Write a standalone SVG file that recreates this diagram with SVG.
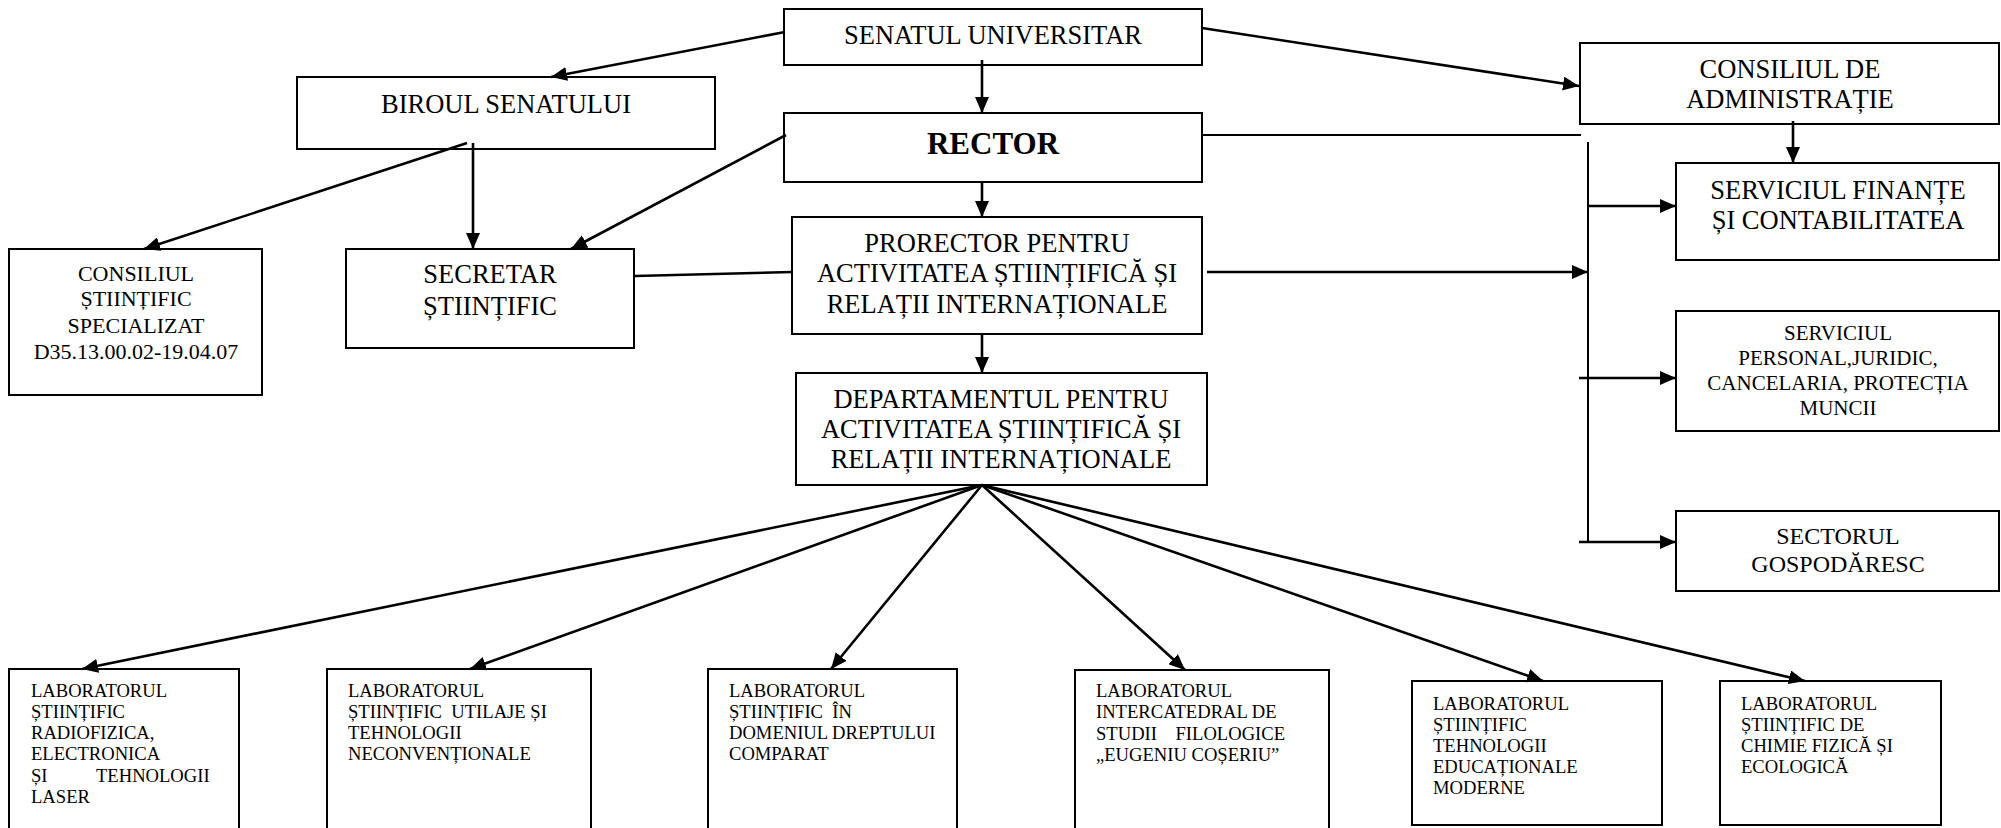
<svg xmlns="http://www.w3.org/2000/svg" width="2001" height="828" viewBox="0 0 2001 828">
<style>
.box{fill:#fff;stroke:#000;stroke-width:2}
text{font-family:"Liberation Serif","Times New Roman",serif;fill:#000}
.c{text-anchor:middle}
.t26{font-size:26.5px}
.t22{font-size:22px}
.t21{font-size:21px}
.t24{font-size:24px}
.lab{font-size:18.6px;white-space:pre}
.ln{stroke:#000;stroke-width:2.6;fill:none}
.thin{stroke:#000;stroke-width:2;fill:none}
</style>
<defs>
<marker id="ah" markerUnits="userSpaceOnUse" markerWidth="16" markerHeight="14" refX="16" refY="7" orient="auto">
<path d="M0,0 L16,7 L0,14 z" fill="#000"/>
</marker>
</defs>
<rect width="2001" height="828" fill="#fff"/>

<g id="senat"><rect class="box" x="784" y="9" width="418" height="56"/>
<text class="c t26" x="993" y="44">SENATUL UNIVERSITAR</text></g>

<g id="birou"><rect class="box" x="297" y="77" width="418" height="72"/>
<text class="c t26" x="506" y="113">BIROUL SENATULUI</text></g>

<g id="rector"><rect class="box" x="784" y="113" width="418" height="69"/>
<text class="c" x="993" y="154" style="font-size:31px;font-weight:bold">RECTOR</text></g>

<g id="consiliul-admin"><rect class="box" x="1580" y="43" width="419" height="81"/>
<text class="c t26" x="1790" y="78">CONSILIUL DE</text>
<text class="c t26" x="1790" y="108">ADMINISTRAȚIE</text></g>

<g id="prorector"><rect class="box" x="792" y="217" width="410" height="117"/>
<text class="c t26" x="997" y="252">PRORECTOR PENTRU</text>
<text class="c t26" x="997" y="282">ACTIVITATEA ȘTIINȚIFICĂ ȘI</text>
<text class="c t26" x="997" y="313">RELAȚII INTERNAȚIONALE</text></g>

<g id="departament"><rect class="box" x="796" y="373" width="411" height="112"/>
<text class="c t26" x="1001" y="408">DEPARTAMENTUL PENTRU</text>
<text class="c t26" x="1001" y="438">ACTIVITATEA ȘTIINȚIFICĂ ȘI</text>
<text class="c t26" x="1001" y="468">RELAȚII INTERNAȚIONALE</text></g>

<g id="consiliul-stiintific"><rect class="box" x="9" y="249" width="253" height="146"/>
<text class="c t22" x="136" y="281">CONSILIUL</text>
<text class="c t22" x="136" y="306">ȘTIINȚIFIC</text>
<text class="c t22" x="136" y="333">SPECIALIZAT</text>
<text class="c t22" x="136" y="359">D35.13.00.02-19.04.07</text></g>

<g id="secretar"><rect class="box" x="346" y="249" width="288" height="99"/>
<text class="c t26" x="490" y="283">SECRETAR</text>
<text class="c t26" x="490" y="315">ȘTIINȚIFIC</text></g>

<g id="finante"><rect class="box" x="1676" y="163" width="323" height="97"/>
<text class="c" x="1838" y="199" style="font-size:26.5px">SERVICIUL FINANȚE</text>
<text class="c" x="1838" y="229" style="font-size:26.5px">ȘI CONTABILITATEA</text></g>

<g id="personal"><rect class="box" x="1676" y="311" width="323" height="120"/>
<text class="c t21" x="1838" y="340">SERVICIUL</text>
<text class="c t21" x="1838" y="365">PERSONAL,JURIDIC,</text>
<text class="c t21" x="1838" y="390">CANCELARIA, PROTECȚIA</text>
<text class="c t21" x="1838" y="415">MUNCII</text></g>

<g id="sectorul"><rect class="box" x="1676" y="511" width="323" height="80"/>
<text class="c t24" x="1838" y="544">SECTORUL</text>
<text class="c t24" x="1838" y="572">GOSPODĂRESC</text></g>

<g id="lab1"><rect class="box" x="9" y="669" width="230" height="175"/>
<text class="lab" x="31" y="697">LABORATORUL</text>
<text class="lab" x="31" y="718">ȘTIINȚIFIC</text>
<text class="lab" x="31" y="739">RADIOFIZICA,</text>
<text class="lab" x="31" y="760">ELECTRONICA</text>
<text class="lab" y="782"><tspan x="31">ȘI</tspan><tspan x="96">TEHNOLOGII</tspan></text>
<text class="lab" x="31" y="803">LASER</text></g>

<g id="lab2"><rect class="box" x="327" y="669" width="264" height="175"/>
<text class="lab" x="348" y="697">LABORATORUL</text>
<text class="lab" x="348" y="718">ȘTIINȚIFIC  UTILAJE ȘI</text>
<text class="lab" x="348" y="739">TEHNOLOGII</text>
<text class="lab" x="348" y="760">NECONVENȚIONALE</text></g>

<g id="lab3"><rect class="box" x="708" y="669" width="249" height="175"/>
<text class="lab" x="729" y="697">LABORATORUL</text>
<text class="lab" x="729" y="718">ȘTIINȚIFIC  ÎN</text>
<text class="lab" x="729" y="739">DOMENIUL DREPTULUI</text>
<text class="lab" x="729" y="760">COMPARAT</text></g>

<g id="lab4"><rect class="box" x="1075" y="670" width="254" height="175"/>
<text class="lab" x="1096" y="697">LABORATORUL</text>
<text class="lab" x="1096" y="718">INTERCATEDRAL DE</text>
<text class="lab" x="1096" y="740">STUDII    FILOLOGICE</text>
<text class="lab" x="1096" y="761">„EUGENIU COȘERIU”</text></g>

<g id="lab5"><rect class="box" x="1412" y="681" width="250" height="144"/>
<text class="lab" x="1433" y="710">LABORATORUL</text>
<text class="lab" x="1433" y="731">ȘTIINȚIFIC</text>
<text class="lab" x="1433" y="752">TEHNOLOGII</text>
<text class="lab" x="1433" y="773">EDUCAȚIONALE</text>
<text class="lab" x="1433" y="794">MODERNE</text></g>

<g id="lab6"><rect class="box" x="1720" y="681" width="221" height="144"/>
<text class="lab" x="1741" y="710">LABORATORUL</text>
<text class="lab" x="1741" y="731">ȘTIINȚIFIC DE</text>
<text class="lab" x="1741" y="752">CHIMIE FIZICĂ ȘI</text>
<text class="lab" x="1741" y="773">ECOLOGICĂ</text></g>

<g id="connectors">
<line class="ln" x1="785" y1="32" x2="551" y2="77" marker-end="url(#ah)"/>
<line class="ln" x1="1202" y1="28" x2="1579" y2="86" marker-end="url(#ah)"/>
<line class="ln" x1="982" y1="60" x2="982" y2="113" marker-end="url(#ah)"/>
<line class="ln" x1="982" y1="182" x2="982" y2="217" marker-end="url(#ah)"/>
<line class="ln" x1="982" y1="334" x2="982" y2="373" marker-end="url(#ah)"/>
<line class="ln" x1="473" y1="143" x2="473" y2="249" marker-end="url(#ah)"/>
<line class="ln" x1="467" y1="143" x2="144" y2="249" marker-end="url(#ah)"/>
<line class="ln" x1="786" y1="135" x2="571" y2="249" marker-end="url(#ah)"/>
<line class="ln" x1="635" y1="276" x2="792" y2="272"/>
<line class="thin" x1="1202" y1="135" x2="1581" y2="135"/>
<line class="thin" x1="1588" y1="142" x2="1588" y2="542"/>
<line class="ln" x1="1207" y1="272" x2="1588" y2="272" marker-end="url(#ah)"/>
<line class="ln" x1="1793" y1="121" x2="1793" y2="163" marker-end="url(#ah)"/>
<line class="ln" x1="1588" y1="206" x2="1676" y2="206" marker-end="url(#ah)"/>
<line class="ln" x1="1579" y1="378" x2="1676" y2="378" marker-end="url(#ah)"/>
<line class="ln" x1="1579" y1="542" x2="1676" y2="542" marker-end="url(#ah)"/>
<line class="ln" x1="982" y1="485" x2="82" y2="669" marker-end="url(#ah)"/>
<line class="ln" x1="982" y1="485" x2="470" y2="669" marker-end="url(#ah)"/>
<line class="ln" x1="982" y1="485" x2="831" y2="669" marker-end="url(#ah)"/>
<line class="ln" x1="982" y1="485" x2="1185" y2="670" marker-end="url(#ah)"/>
<line class="ln" x1="982" y1="485" x2="1543" y2="681" marker-end="url(#ah)"/>
<line class="ln" x1="982" y1="485" x2="1805" y2="681" marker-end="url(#ah)"/>
</g>
</svg>
